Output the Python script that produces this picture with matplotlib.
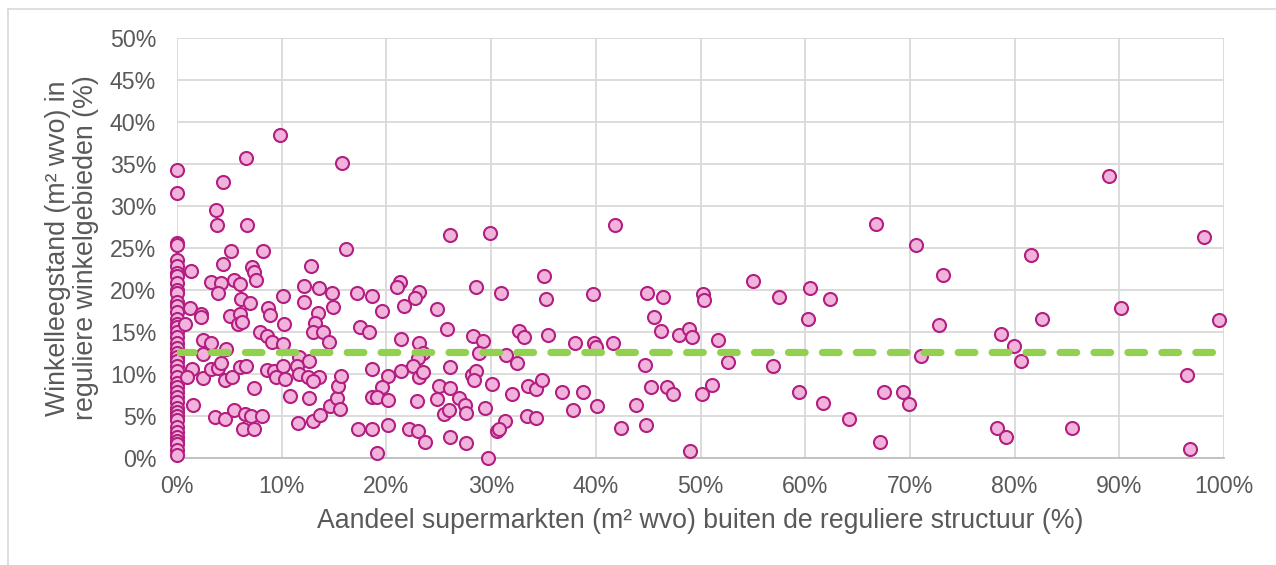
import matplotlib
matplotlib.use("Agg")
import matplotlib.pyplot as plt
from matplotlib.ticker import PercentFormatter
from matplotlib.lines import Line2D

plt.rcParams['font.family'] = ['Liberation Sans', 'DejaVu Sans']

# --- data (percent units) ---
x_zero_col_y = [34.3, 31.6, 25.6, 25.3, 23.6, 22.8, 22.0, 21.7, 20.8, 20.0, 19.6,
                18.6, 18.1, 17.4, 16.6, 16.0, 15.6, 15.0, 14.4, 13.7, 13.1, 12.5,
                12.0, 11.5, 11.0, 10.3, 9.7, 8.9, 8.4, 7.9, 7.3, 6.7, 6.0, 5.5,
                5.0, 4.5, 3.7, 3.1, 2.5, 2.0, 1.7, 0.95, 0.4]

pts_x = [9.8, 6.6, 15.8, 4.4, 3.7, 3.8, 6.7, 5.2, 8.2, 16.1, 4.4, 7.2, 7.4, 12.8,
         1.3, 3.2, 4.2, 5.4, 6.0, 7.5, 3.9, 6.1, 7.0, 1.2, 2.3, 2.3, 0.8, 5.1, 6.0,
         5.8, 6.2, 10.1, 8.7, 8.9, 10.2, 12.1, 12.1, 13.6, 14.8, 14.9, 13.5, 13.2,
         13.0, 13.9, 14.5, 7.9, 8.6, 9.1, 10.1, 2.5, 3.2, 2.5, 4.7, 1.4, 1.0, 2.5,
         3.2, 3.9, 4.6, 5.3, 4.2, 6.0, 6.6, 7.4, 8.6, 9.3, 10.1, 9.5, 10.3, 10.8,
         11.7, 11.5, 11.7, 12.6, 12.5, 13.6, 13.0, 12.6, 1.5, 3.6, 4.6, 5.4, 6.5,
         7.1, 8.1, 6.3, 7.4, 11.6, 13.0, 13.7, 14.6, 15.3, 15.4, 15.7, 15.6,
         26.1, 29.9, 17.2, 18.6, 21.3, 21.0, 23.1, 22.7, 21.7, 19.6, 24.8, 28.6,
         30.9, 35.1, 35.2, 17.5, 18.3, 21.4, 23.1, 25.8, 28.3, 29.2, 28.8, 32.7,
         33.1, 31.4, 32.5, 23.5, 23.0, 22.5, 23.1, 23.5, 21.4, 20.2, 18.6, 19.6,
         18.6, 19.1, 20.2, 22.9, 25.0, 26.1, 24.8, 26.9, 27.5, 27.6, 25.5, 26.0,
         26.1, 28.2, 28.6, 28.4, 30.1, 29.4, 32.0, 33.5, 34.3, 34.9, 31.3, 30.6,
         30.8, 33.4, 34.3, 17.3, 18.6, 20.2, 22.2, 23.0, 23.7, 26.1, 27.6, 19.1,
         29.7,
         41.8, 39.7, 44.9, 46.4, 50.2, 50.3, 45.6, 46.2, 47.9, 48.9, 49.2, 51.7,
         52.6, 35.4, 38.0, 39.8, 40.0, 41.6, 44.7, 36.8, 38.8, 37.8, 40.1, 42.4,
         43.8, 44.8, 45.3, 46.8, 47.4, 50.1, 51.1, 49.0,
         66.8, 70.6, 73.2, 55.0, 57.5, 60.5, 62.4, 60.3, 72.8, 56.9, 71.1, 59.4,
         61.7, 64.2, 67.5, 69.3, 69.9, 67.1,
         89.0, 98.1, 81.6, 90.2, 82.6, 99.5, 78.7, 79.9, 80.6, 96.5, 78.3, 79.2,
         85.5, 96.8]

pts_y = [38.4, 35.7, 35.1, 32.9, 29.5, 27.7, 27.7, 24.6, 24.7, 24.9, 23.1, 22.7, 22.2, 22.9,
         22.3, 21.0, 20.8, 21.2, 20.7, 21.2, 19.7, 18.9, 18.5, 17.9, 17.2, 16.8, 16.0, 16.9, 17.2,
         16.0, 16.2, 19.3, 17.9, 17.0, 15.9, 20.5, 18.6, 20.2, 19.7, 18.0, 17.3, 16.1,
         15.0, 15.0, 13.8, 15.0, 14.5, 13.8, 13.6, 14.0, 13.7, 12.4, 13.0, 10.6, 9.6, 9.5,
         10.6, 10.7, 9.3, 9.6, 11.3, 10.8, 11.0, 8.3, 10.5, 10.4, 11.0, 9.6, 9.4, 7.4,
         12.0, 10.9, 10.0, 11.6, 9.6, 9.7, 9.2, 7.2, 6.3, 4.9, 4.6, 5.7, 5.2,
         5.0, 5.0, 3.4, 3.4, 4.2, 4.4, 5.1, 6.2, 7.1, 8.6, 9.8, 5.8,
         26.6, 26.8, 19.7, 19.3, 20.9, 20.4, 19.8, 19.0, 18.1, 17.5, 17.7, 20.3,
         19.7, 21.7, 18.9, 15.6, 15.0, 14.2, 13.7, 15.3, 14.5, 13.9, 12.5, 15.1,
         14.4, 12.3, 11.3, 12.5, 11.9, 10.9, 9.7, 10.2, 10.3, 9.8, 10.6, 8.5,
         7.3, 7.3, 6.9, 6.8, 8.6, 8.3, 7.0, 7.1, 6.3, 5.4, 5.2, 5.7,
         10.8, 9.9, 10.4, 9.3, 8.8, 5.9, 7.6, 8.6, 8.2, 9.3, 4.4, 3.2,
         3.5, 5.0, 4.8, 3.4, 3.5, 3.9, 3.5, 3.2, 1.9, 2.5, 1.8, 0.6,
         0.0,
         27.7, 19.5, 19.6, 19.2, 19.5, 18.8, 16.8, 15.1, 14.7, 15.4, 14.4, 14.1,
         11.4, 14.6, 13.7, 13.7, 13.2, 13.7, 11.1, 7.8, 7.9, 5.7, 6.2, 3.6,
         6.3, 3.9, 8.4, 8.4, 7.6, 7.6, 8.7, 0.8,
         27.8, 25.3, 21.8, 21.1, 19.2, 20.2, 18.9, 16.5, 15.8, 11.0, 12.1, 7.9,
         6.5, 4.6, 7.8, 7.8, 6.4, 1.9,
         33.6, 26.3, 24.2, 17.9, 16.5, 16.4, 14.8, 13.3, 11.6, 9.9, 3.6, 2.5,
         3.6, 1.1]

avg_x = [0, 99.8]
avg_y = [12.6, 12.6]

x_ticks = list(range(0, 101, 10))
y_ticks = list(range(0, 51, 5))
x_label = "Aandeel supermarkten (m² wvo) buiten de reguliere structuur (%)"
y_label = "Winkelleegstand (m² wvo) in\nreguliere winkelgebieden (%)"

# --- figure ---
W, H = 1276, 565
fig = plt.figure(figsize=(W / 100, H / 100), dpi=100)
ax_l, ax_r, ax_b, ax_t = 177, 1224, 458, 38
ax = fig.add_axes([ax_l / W, 1 - ax_b / H, (ax_r - ax_l) / W, (ax_b - ax_t) / H])

all_x = [0.0] * len(x_zero_col_y) + pts_x
all_y = x_zero_col_y + pts_y

ax.scatter(all_x, all_y, s=88, facecolor='#F1B2DC', edgecolor='#B31F80',
           linewidth=1.5, zorder=3, clip_on=False)
ax.plot(avg_x, avg_y, color='#92D050', linewidth=5.2, dashes=(2.3, 2.4),
        dash_capstyle='round', zorder=4)

ax.set_xlim(0, 100)
ax.set_ylim(0, 50)
ax.set_xticks(x_ticks)
ax.set_yticks(y_ticks)
ax.xaxis.set_major_formatter(PercentFormatter(decimals=0))
ax.yaxis.set_major_formatter(PercentFormatter(decimals=0))
ax.grid(True, color='#D9D9D9', linewidth=1.3, zorder=0)
ax.set_axisbelow(True)
for s in ['top', 'right', 'left']:
    ax.spines[s].set_visible(False)
ax.spines['bottom'].set_color('#BFBFBF')
ax.spines['bottom'].set_linewidth(1.3)
ax.tick_params(axis='both', length=0, labelsize=16.7, colors='#595959')
ax.tick_params(axis='y', pad=15)
ax.tick_params(axis='x', pad=12)

ax.set_xlabel(x_label, fontsize=19.2, color='#595959')
ax.set_ylabel(y_label, fontsize=19.3, color='#595959', linespacing=1.12)
ax.xaxis.set_label_coords(0.5, -(508 - ax_b) / (ax_b - ax_t))
ax.xaxis.label.set_va('top')
ax.yaxis.set_label_coords((72 - ax_l) / (ax_r - ax_l), 0.5)
ax.yaxis.label.set_va('center')

# chart border
fig.add_artist(Line2D([7.5 / W, 7.5 / W], [0, 1 - 8.5 / H], transform=fig.transFigure,
                      color='#D9D9D9', linewidth=1.2))
fig.add_artist(Line2D([7.5 / W, 1], [1 - 8.5 / H, 1 - 8.5 / H], transform=fig.transFigure,
                      color='#D9D9D9', linewidth=1.2))

fig.savefig('out.png', dpi=100, facecolor='white')
